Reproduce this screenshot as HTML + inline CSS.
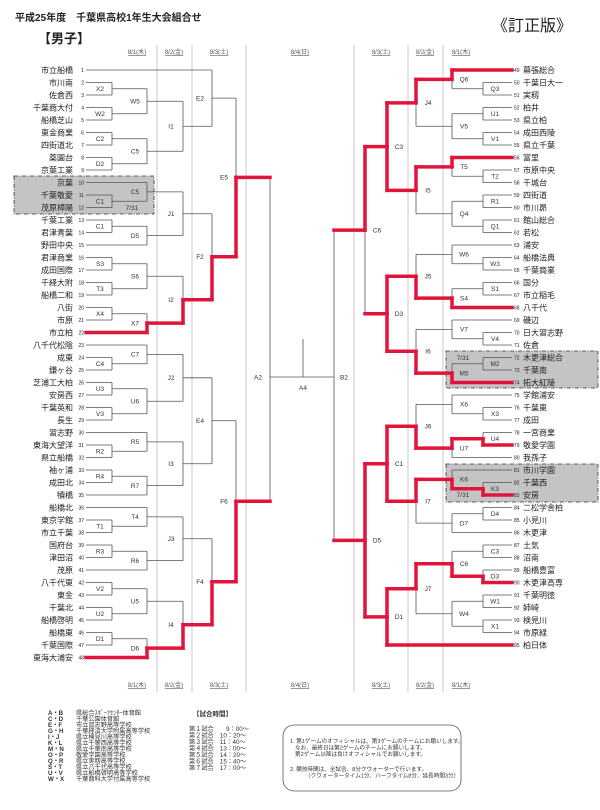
<!DOCTYPE html>
<html><head><meta charset="utf-8">
<style>
html,body{margin:0;padding:0;background:#fff;}
body{width:600px;height:805px;overflow:hidden;font-family:"Liberation Sans","Noto Sans CJK JP",sans-serif;}
svg text{font-family:"Liberation Sans","Noto Sans CJK JP",sans-serif;}
</style></head><body>
<svg id="s" width="600" height="805" viewBox="0 0 600 805" xmlns="http://www.w3.org/2000/svg">
<rect x="14" y="176" width="140" height="38" fill="#c4c4c4" stroke="#333" stroke-width="0.8" stroke-dasharray="4,1.5,1,1.5"/>
<rect x="446" y="351" width="152" height="37" fill="#c4c4c4" stroke="#333" stroke-width="0.8" stroke-dasharray="4,1.5,1,1.5"/>
<rect x="446" y="464" width="152" height="38" fill="#c4c4c4" stroke="#333" stroke-width="0.8" stroke-dasharray="4,1.5,1,1.5"/>
<g stroke="#bbb" stroke-width="0.8">
<line x1="157" y1="45" x2="157" y2="692"/><line x1="192" y1="45" x2="192" y2="692"/><line x1="246" y1="45" x2="246" y2="692"/>
<line x1="354" y1="45" x2="354" y2="692"/><line x1="408" y1="45" x2="408" y2="692"/><line x1="443" y1="45" x2="443" y2="692"/>
</g>
<text x="15" y="21" font-size="10" font-weight="bold" fill="#222">平成25年度　千葉県高校1年生大会組合せ</text>
<text x="38" y="43" font-size="13" font-weight="bold" fill="#222">【男子】</text>
<text x="492" y="31" font-size="16" fill="#222">《訂正版》</text>
<g font-size="6" fill="#555" text-anchor="middle" text-decoration="underline">
<text x="137" y="54">8/1(木)</text><text x="174" y="54">8/2(金)</text><text x="219" y="54">8/3(土)</text><text x="300" y="54">8/4(日)</text>
<text x="381" y="54">8/3(土)</text><text x="425" y="54">8/2(金)</text><text x="461" y="54">8/1(木)</text>
<text x="137" y="687">8/1(木)</text><text x="174" y="687">8/2(金)</text><text x="219" y="687">8/3(土)</text><text x="300" y="687">8/4(日)</text>
<text x="381" y="687">8/3(土)</text><text x="425" y="687">8/2(金)</text><text x="461" y="687">8/1(木)</text>
</g>
<g id="grey" stroke="#555" stroke-width="0.8" fill="none"></g>
<g id="red" stroke="#e3143c" stroke-width="3.5" fill="none" stroke-linecap="square"></g>
<g id="lab" font-size="6.5" fill="#333" text-anchor="middle"></g>
<g id="names" font-size="8" fill="#222"></g>
<g font-size="6.5" fill="#333" text-anchor="middle">
<text x="132" y="210">7/31</text><text x="463" y="360">7/31</text><text x="463" y="497">7/31</text>
</g>
<!-- legend -->
<g font-size="6.2" fill="#333">
<g font-weight="bold">
<text x="48" y="715">A・B</text><text x="48" y="721">C・D</text><text x="48" y="727">E・F</text><text x="48" y="733">G・H</text><text x="48" y="739">I・J</text><text x="48" y="745">K・L</text><text x="48" y="751">M・N</text><text x="48" y="757">O・P</text><text x="48" y="763">Q・R</text><text x="48" y="769">S・T</text><text x="48" y="775">U・V</text><text x="48" y="781">W・X</text>
</g>
<text x="76" y="715">県総合ｽﾎﾟｰﾂｾﾝﾀｰ体育館</text><text x="76" y="721">千葉公園体育館</text><text x="76" y="727">市立習志野高等学校</text><text x="76" y="733">千葉経済大学附属高等学校</text><text x="76" y="739">県立検見川高等学校</text><text x="76" y="745">県立千葉西高等学校</text><text x="76" y="751">県立千葉南高等学校</text><text x="76" y="757">敬愛学園高等学校</text><text x="76" y="763">県立実籾高等学校</text><text x="76" y="769">県立八千代高等学校</text><text x="76" y="775">県立船橋啓明高等学校</text><text x="76" y="781">千葉商科大学付属高等学校</text>
<text x="193" y="716" font-size="6.5" font-weight="bold">【試合時間】</text>
<text x="189" y="731">第１試合　　9：00～</text><text x="189" y="737.5">第２試合　10：20～</text><text x="189" y="744">第３試合　11：40～</text><text x="189" y="750.5">第４試合　13：00～</text><text x="189" y="757">第５試合　14：20～</text><text x="189" y="763.5">第６試合　15：40～</text><text x="189" y="770">第７試合　17：00～</text>
</g>
<rect x="283" y="725" width="178" height="66" rx="11" fill="none" stroke="#555" stroke-width="0.8"/>
<g font-size="5.6" fill="#333">
<text x="290" y="743">1. 第1ゲームのオフィシャルは、第3ゲームのチームにお願いします。</text>
<text x="295" y="749.5">なお、最終日は第2ゲームのチームにお願いします。</text>
<text x="295" y="756">第2ゲーム以降は負けオフィシャルでお願いします。</text>
<text x="290" y="771">2. 競技時間は、全試合、8分クウォーターで行います。</text>
<text x="305" y="777.5">（クウォータータイム1分、ハーフタイム8分、延長時間3分）</text>
</g>
</svg>
<script>
(function(){
var NS="http://www.w3.org/2000/svg";
var G=document.getElementById('grey'),R=document.getElementById('red'),L=document.getElementById('lab'),NM=document.getElementById('names');
function ln(g,x1,y1,x2,y2){var e=document.createElementNS(NS,'line');e.setAttribute('x1',x1);e.setAttribute('y1',y1);e.setAttribute('x2',x2);e.setAttribute('y2',y2);g.appendChild(e);}
function tx(g,x,y,t,a,fs){var e=document.createElementNS(NS,'text');e.setAttribute('x',x);e.setAttribute('y',y);if(a)e.setAttribute('text-anchor',a);if(fs)e.setAttribute('font-size',fs);e.textContent=t;g.appendChild(e);}
function Y(i){return 70+(i-(i<=48?1:49))*12.5;}
var side;
function N(x,lab,kids,modes,oy){return {x:x,lab:lab,kids:kids,modes:modes||'00',oy:oy};}
function draw(n){
 if(typeof n==='number'){return {y:Y(n),x:side<0?86:512};}
 var cs=n.kids.map(draw);
 var ys=cs.map(function(c){return c.y;});
 var y0=Math.min.apply(null,ys),y1=Math.max.apply(null,ys);
 var oy=n.oy!==undefined?n.oy:(y0+y1)/2;
 cs.forEach(function(c,i){
  ln(G,c.x,c.y,n.x,c.y);
  var m=n.modes[i];
  if(m==='f'||m==='h'){ln(R,c.x,c.y,n.x,c.y);}
  if(m==='f'){ln(R,n.x,c.y,n.x,oy);}
 });
 ln(G,n.x,y0,n.x,y1);
 if(n.lab){tx(L,n.x+(side<0?-12:12),oy+2.3,n.lab);}
 return {y:oy,x:n.x};
}
function P(x,l,a,b,m){return N(x,l,[a,b],m);}
// LEFT
side=-1;
var E2=N(212,'E2',[1,N(183,'I1',[N(147,'W5',[P(112,'X2',2,3),P(112,'W2',4,5)]),N(147,'C5',[P(112,'C2',6,7),P(112,'D2',8,9)])])]);
var J1=N(183,'J1',[N(147,'C5',[10,P(112,'C1',11,12)]),N(147,'D5',[P(112,'C1',13,14),15])]);
var I2=N(183,'I2',[N(147,'S6',[P(112,'S3',16,17),P(112,'T3',18,19)]),N(147,'X7',[P(112,'X4',20,21),22],'0f')],'0f');
var F2=N(212,'F2',[J1,I2],'0f');
var E5=N(236,'E5',[E2,F2],'0f');
var J2=N(183,'J2',[N(147,'C7',[23,P(112,'C4',24,25)]),N(147,'U6',[P(112,'U3',26,27),P(112,'V3',28,29)])]);
var I3=N(183,'I3',[N(147,'R5',[30,P(112,'R2',31,32)]),N(147,'R7',[P(112,'R4',33,34),35])]);
var E4=N(212,'E4',[J2,I3]);
var J3=N(183,'J3',[N(147,'T4',[36,P(112,'T1',37,38)]),N(147,'R6',[P(112,'R3',39,40),41])]);
var I4=N(183,'I4',[N(147,'U5',[P(112,'V2',42,43),P(112,'U2',44,45)]),N(147,'D6',[P(112,'D1',46,47),48],'0f')],'0f');
var F4=N(212,'F4',[J3,I4],'0f');
var F6=N(236,'F6',[E4,F4],'0f');
draw(N(270,null,[E5,F6],'hh',377));
tx(L,258,379.3,'A2');
// RIGHT
side=1;
var J4=N(416,'J4',[N(452,'Q6',[49,P(483,'Q3',50,51)],'f0'),N(452,'V5',[P(483,'U1',52,53),P(483,'V1',54,55)])],'f0');
var I5=N(416,'I5',[N(452,'T5',[56,P(483,'T2',57,58)],'f0'),N(452,'Q4',[P(483,'R1',59,60),P(483,'Q1',61,62)])],'f0');
var C3=N(387,'C3',[J4,I5],'ff');
var J5=N(416,'J5',[N(452,'W6',[63,P(483,'W3',64,65)]),N(452,'S4',[P(483,'S1',66,67),68],'0f')],'0f');
var I6=N(416,'I6',[N(452,'V7',[69,P(483,'V4',70,71)]),N(452,'M5',[P(483,'M2',72,73),74],'0f')],'0f');
var D3=N(387,'D3',[J5,I6],'ff');
var C6=N(365,'C6',[C3,D3],'fh');
var J6=N(416,'J6',[N(452,'X6',[75,P(483,'X3',76,77)]),N(452,'U7',[P(483,'U4',78,79,'0f'),80],'f0')],'0f');
var I7=N(416,'I7',[N(452,'K6',[81,P(483,'K3',82,83,'0f')],'0f'),N(452,'D7',[P(483,'D4',84,85),86])],'f0');
var C1=N(387,'C1',[J6,I7],'ff');
var J7=N(416,'J7',[N(452,'C6',[P(483,'C3',87,88),P(483,'D3',89,90,'0f')],'0f'),N(452,'W4',[P(483,'W1',91,92),P(483,'X1',93,94)])],'f0');
var D1=N(387,'D1',[J7,95],'ff');
var D5=N(365,'D5',[C1,D1],'ff');
draw(N(334,null,[C6,D5],'hh',377));
tx(L,344,379.3,'B2');
// final
ln(G,270,377,334,377);ln(G,303,339,303,377);
tx(L,303,390,'A4');
// names
var left=["市立船橋","市川南","佐倉西","千葉商大付","船橋芝山","東金商業","四街道北","薬園台","京葉工業","京葉","千葉敬愛","茂原樟陽","千葉工業","君津青葉","野田中央","君津商業","成田国際","千経大附","船橋二和","八街","市原","市立柏","八千代松陰","成東","鎌ヶ谷","芝浦工大柏","安房西","千葉英和","長生","習志野","東海大望洋","県立船橋","袖ヶ浦","成田北","犢橋","船橋北","東京学館","市立千葉","国府台","津田沼","茂原","八千代東","東金","千葉北","船橋啓明","船橋東","千葉国際","東海大浦安"];
var right=["幕張総合","千葉日大一","実籾","柏井","県立柏","成田西陵","県立千葉","富里","市原中央","千城台","四街道","市川昴","館山総合","若松","浦安","船橋法典","千葉商業","国分","市立稲毛","八千代","磯辺","日大習志野","佐倉","木更津総合","千葉南","拓大紅陵","学館浦安","千葉東","成田","一宮商業","敬愛学園","我孫子","市川学園","千葉西","安房","二松学舎柏","小見川","木更津","土気","沼南","船橋豊富","木更津高専","千葉明徳","姉崎","検見川","市原緑","柏日体"];
left.forEach(function(n,i){var y=Y(i+1);tx(NM,73,y+3,n,'end');tx(NM,84,y+2,String(i+1),'end','5');});
right.forEach(function(n,i){var y=Y(i+49);tx(NM,514,y+2,String(i+49),'start','5');tx(NM,523,y+3,n,'start');});
})();
</script>
</body></html>
